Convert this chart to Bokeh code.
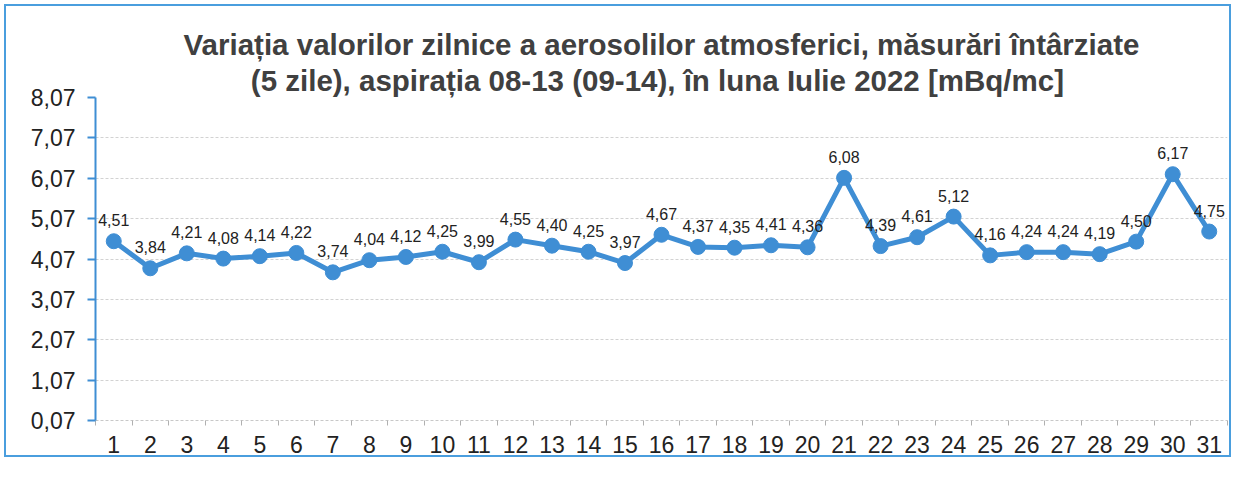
from bokeh.plotting import figure
from bokeh.models import (ColumnDataSource, Range1d, FixedTicker, CustomJSTickFormatter,
                          Title, LabelSet)
from bokeh.core.properties import value
from bokeh.embed import file_html
from bokeh.resources import INLINE

days = list(range(1, 32))
values = [4.51, 3.84, 4.21, 4.08, 4.14, 4.22, 3.74, 4.04, 4.12, 4.25, 3.99,
          4.55, 4.40, 4.25, 3.97, 4.67, 4.37, 4.35, 4.41, 4.36, 6.08, 4.39,
          4.61, 5.12, 4.16, 4.24, 4.24, 4.19, 4.50, 6.17, 4.75]
labels = [f"{v:.2f}".replace(".", ",") for v in values]
y_ticks = [0.07, 1.07, 2.07, 3.07, 4.07, 5.07, 6.07, 7.07, 8.07]
title_line1 = "Variația valorilor zilnice a aerosolilor atmosferici, măsurări întârziate"
title_line2 = "(5 zile), aspirația 08-13 (09-14),  în luna Iulie 2022 [mBq/mc]"

FONT = "Liberation Sans"
BLUE = "#3f8ed4"

src = ColumnDataSource(dict(x=days, y=values, lab=labels))

p = figure(width=1235, height=461, output_backend="svg", toolbar_location=None,
           x_range=Range1d(0.5, 31.5), y_range=Range1d(0.07, 8.07),
           min_border_left=95, min_border_right=8, min_border_top=97, min_border_bottom=41)
p.outline_line_color = None
p.background_fill_color = "white"
p.border_fill_color = None
p.styles = {"background-color": "white",
            "box-shadow": "inset 0 0 0 4px white, inset 0 0 0 6px #4a9ede"}

t2 = Title(text=title_line2, align="center", text_font=FONT, text_font_size="29.5px",
           text_font_style="bold", text_color="#404040", standoff=2)
t1 = Title(text=title_line1, align="center", text_font=FONT, text_font_size="29.5px",
           text_font_style="bold", text_color="#404040", standoff=0)
p.add_layout(t2, "above")
p.add_layout(t1, "above")

# y axis
p.yaxis.ticker = FixedTicker(ticks=y_ticks)
p.yaxis.formatter = CustomJSTickFormatter(code="return tick.toFixed(2).replace('.', ',');")
p.yaxis.axis_line_color = BLUE
p.yaxis.axis_line_width = 2
p.yaxis.major_tick_line_color = BLUE
p.yaxis.major_tick_line_width = 2
p.yaxis.major_tick_out = 8
p.yaxis.major_tick_in = 0
p.yaxis.minor_tick_line_color = None
p.yaxis.major_label_text_font = FONT
p.yaxis.major_label_text_font_size = "23px"
p.yaxis.major_label_text_color = "#222222"
p.yaxis.major_label_standoff = 12

# x axis
p.xaxis.ticker = FixedTicker(ticks=days, minor_ticks=[d - 0.5 for d in days] + [31.5])
p.xaxis.axis_line_color = "#c8c8c8"
p.xaxis.axis_line_dash = "3 2"
p.xaxis.major_tick_line_color = None
p.xaxis.minor_tick_line_color = "#b0b0b0"
p.xaxis.minor_tick_out = 5
p.xaxis.minor_tick_in = 0
p.xaxis.major_label_text_font = FONT
p.xaxis.major_label_text_font_size = "23px"
p.xaxis.major_label_text_color = "#222222"
p.xaxis.major_label_standoff = 9

p.xgrid.grid_line_color = None
p.ygrid.grid_line_color = "#d2d2d2"
p.ygrid.grid_line_dash = "3 2"

p.line("x", "y", source=src, line_color=BLUE, line_width=5)
p.scatter("x", "y", source=src, size=15, fill_color=BLUE, line_color=BLUE)

lbl = LabelSet(x="x", y="y", text="lab", source=src, text_align="center",
               text_baseline="bottom", y_offset=15, text_font=value(FONT),
               text_font_size=value("16px"), text_color="#222222")
p.add_layout(lbl)

open("out.html", "w").write(file_html(p, INLINE))
